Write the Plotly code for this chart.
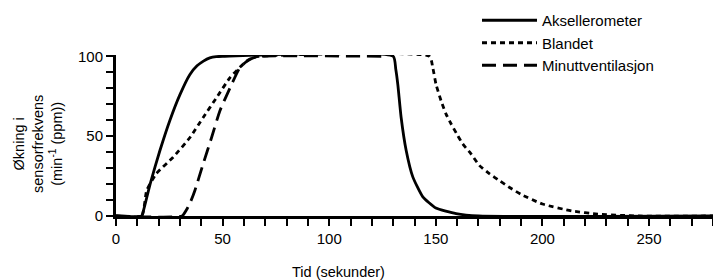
import plotly.graph_objects as go

# Aksellerometer (solid)
t_aks = [0, 12, 13, 16, 20.6, 25.3, 30, 34.6, 38, 41, 44, 47, 50, 130, 131.2, 132.2, 133.7, 136.1, 139.2, 143.9, 150, 159.5, 170, 280]
v_aks = [0, 0, 4, 20, 41, 60, 76, 88.5, 94, 97, 99, 99.8, 100, 100, 92, 82, 62, 41, 24.5, 12, 5, 1.5, 0, 0]

# Blandet (dotted)
t_bla = [0, 12, 14.4, 19, 26.8, 34.6, 40.9, 47.1, 53.4, 58, 61.2, 64, 67, 147, 148.6, 150.1, 152.5, 154.8, 157.2, 160.3, 162.6, 166.5, 170.4, 175.1, 180, 185, 190, 200, 214, 226, 237, 245, 280]
v_bla = [0, 0, 16, 26.6, 36.8, 49, 61.7, 74, 86.5, 93, 96.9, 99, 100, 100, 92.7, 82.4, 72, 63.8, 57.6, 50.3, 45.2, 38.9, 31.7, 26.5, 22, 17.5, 13.5, 7.5, 3.1, 1.2, 0.4, 0, 0]

# Minuttventilasjon (dashed)
t_min = [0, 31, 33, 35, 37, 40.9, 44.8, 48.7, 53.4, 58, 61, 64.3, 68, 125]
v_min = [0, 0, 3.7, 9, 16, 32.7, 49, 65.8, 80, 92.7, 96.5, 99, 100, 100]

names = ["Aksellerometer", "Blandet", "Minuttventilasjon"]
x_ticks = [0, 50, 100, 150, 200, 250]
y_ticks = [0, 50, 100]

FONT = "Liberation Sans, Arial, sans-serif"

fig = go.Figure()
series = [(t_aks, v_aks, "solid"), (t_bla, v_bla, "5px,4px"), (t_min, v_min, "14px,7px")]
for i, (t, v, dash) in enumerate(series):
    fig.add_trace(go.Scatter(
        x=t, y=v, mode="lines", name=names[i], legendgroup=names[i],
        line=dict(color="black", width=2.8, dash=dash, shape="spline", smoothing=0.5),
    ))

PL, PT, PB = 116, 55, 64
PW = 713 - PL
PH = 280 - PT - PB

fig.update_layout(
    width=713, height=280,
    margin=dict(l=PL, r=0, t=PT, b=PB, autoexpand=False),
    paper_bgcolor="white", plot_bgcolor="white",
    font=dict(family=FONT, color="black", size=15),
    showlegend=True,
    legend=dict(x=(477 - PL) / PW, y=(PH + PT - 4) / PH, xanchor="left", yanchor="top",
                bgcolor="rgba(0,0,0,0)", font=dict(size=15), itemwidth=55,
                tracegroupgap=0),
    xaxis=dict(range=[0, 280], showgrid=False, zeroline=False,
               showline=True, linecolor="black", linewidth=3,
               ticks="outside", ticklen=7, tickwidth=2, tickcolor="black",
               tickvals=x_ticks, ticktext=[str(x) for x in x_ticks],
               minor=dict(dtick=10, ticks="outside", ticklen=7, tickwidth=2, tickcolor="black", showgrid=False),
               tickfont=dict(size=15)),
    yaxis=dict(range=[0, 100.8], showgrid=False, zeroline=False,
               showline=True, linecolor="black", linewidth=3,
               ticks="outside", ticklen=7, tickwidth=2, tickcolor="black",
               tickvals=y_ticks, ticktext=[str(y) for y in y_ticks],
               minor=dict(dtick=10, ticks="outside", ticklen=7, tickwidth=2, tickcolor="black", showgrid=False),
               tickfont=dict(size=15)),
)

fig.add_annotation(text="Økning i<br>sensorfrekvens<br>(min<sup>-1</sup> (ppm))",
                   xref="paper", yref="paper", x=(38 - PL) / PW, y=(PT + PH - 144) / PH,
                   xanchor="center", yanchor="middle", textangle=-90, showarrow=False,
                   font=dict(size=14.5, family=FONT))
fig.add_annotation(text="Tid (sekunder)", xref="paper", yref="paper",
                   x=(338 - PL) / PW, y=(PT + PH - 272) / PH,
                   xanchor="center", yanchor="middle", showarrow=False,
                   font=dict(size=14.5, family=FONT))

fig.write_html("out.html", config={"displayModeBar": False},
               post_script="document.body.style.margin='0';document.body.style.padding='0';")
